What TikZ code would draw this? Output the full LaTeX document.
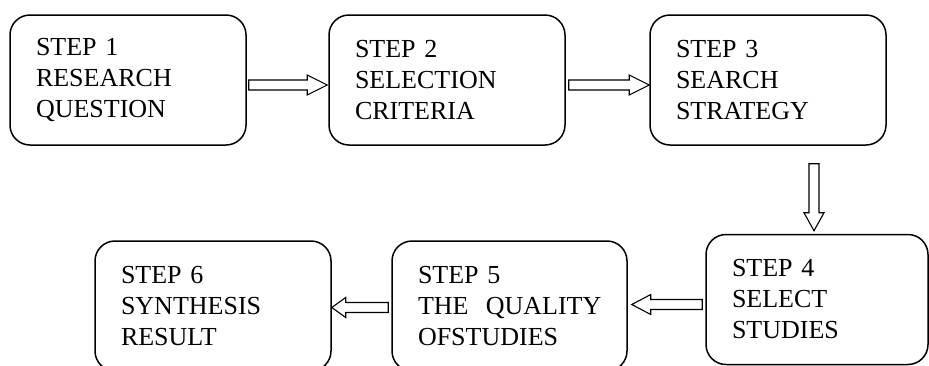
\documentclass[tikz,border=0pt]{standalone}
\usepackage{fontspec}
\setmainfont{Liberation Serif}
\usetikzlibrary{calc}
\newcommand{\rarr}[3]{%
  \draw[barrow] ($(#1)+(0,5)$) -- ($(#2)+(-#3,5)$) -- ($(#2)+(-#3,10)$) -- (#2)
    -- ($(#2)+(-#3,-10)$) -- ($(#2)+(-#3,-5)$) -- ($(#1)+(0,-5)$) -- cycle;}
\newcommand{\larr}[3]{%
  \draw[barrow] ($(#1)+(0,5)$) -- ($(#2)+(#3,5)$) -- ($(#2)+(#3,10)$) -- (#2)
    -- ($(#2)+(#3,-10)$) -- ($(#2)+(#3,-5)$) -- ($(#1)+(0,-5)$) -- cycle;}
\newcommand{\darr}[3]{%
  \draw[barrow] ($(#1)+(-5,0)$) -- ($(#2)+(-5,#3)$) -- ($(#2)+(-10,#3)$) -- (#2)
    -- ($(#2)+(10,#3)$) -- ($(#2)+(5,#3)$) -- ($(#1)+(5,0)$) -- cycle;}
\begin{document}
\begin{tikzpicture}[x=1pt,y=1pt,
  stepbox/.style={draw, line width=1.5pt, rounded corners=20pt, align=left,
    inner xsep=26pt, inner ysep=0pt, minimum height=130pt,
    font=\fontsize{26}{31}\selectfont},
  barrow/.style={draw, line width=1.1pt, fill=white, line join=miter}]
\useasboundingbox (0,0) rectangle (929,-365);
\clip (0,0) rectangle (929,-365);
\node[stepbox, text width=184pt] (n1) at (128,-80) {STEP 1\\RESEARCH\\QUESTION};
\node[stepbox, text width=184pt] (n2) at (447,-80) {STEP 2\\SELECTION\\CRITERIA};
\node[stepbox, text width=184pt] (n3) at (768,-80) {STEP 3\\SEARCH\\STRATEGY};
\node[stepbox, text width=170pt] (n4) at (817,-299.5) {STEP 4\\SELECT\\STUDIES};
\node[stepbox, text width=183pt] (n5) at (509.5,-306) {STEP 5\\\mbox{THE~~QUALITY}\\OFSTUDIES};
\node[stepbox, text width=184pt] (n6) at (213,-306) {STEP 6\\SYNTHESIS\\RESULT};
% connectors
\coordinate (t12) at ($(n1.east)+(2,-5)$);
\coordinate (h12) at ($(n2.west)+(-1,-5)$);
\rarr{t12}{h12}{20}
\coordinate (t23) at ($(n2.east)+(3,-5)$);
\coordinate (h23) at ($(n3.west)+(0,-5)$);
\rarr{t23}{h23}{20}
\coordinate (t34) at ($(n3.south)+(46,-18)$);
\coordinate (h34) at ($(t34 |- n4.north)+(0,3)$);
\darr{t34}{h34}{18}
\coordinate (t45) at ($(n4.west)+(-3,-5)$);
\coordinate (h45) at ($(t45 -| n5.east)+(4,0)$);
\larr{t45}{h45}{19}
\coordinate (t56) at ($(n5.west)+(-3,-1.5)$);
\coordinate (h56) at ($(t56 -| n6.east)+(0,0)$);
\larr{t56}{h56}{14}
\end{tikzpicture}
\end{document}
